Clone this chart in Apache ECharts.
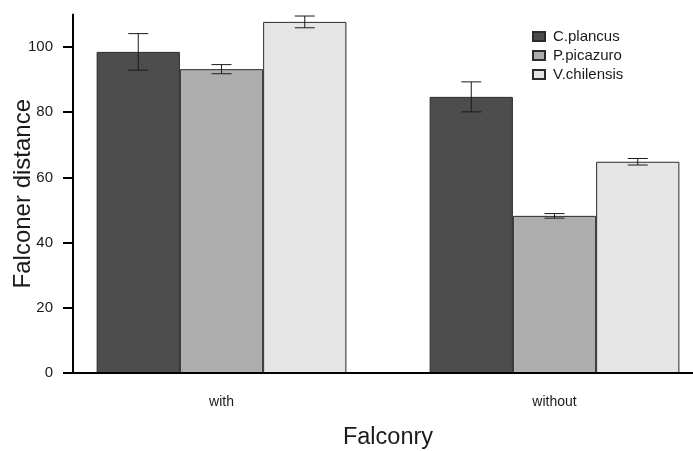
<!DOCTYPE html>
<html>
<head>
<meta charset="utf-8">
<script src="https://cdn.jsdelivr.net/npm/echarts@6/dist/echarts.min.js"></script>
<style>
  html, body { margin: 0; padding: 0; background: #fff; }
  #chart { width: 693px; height: 451px; }
</style>
</head>
<body>
<div id="chart"></div>
<script>
// Falconer distance by species, with and without falconry (mean ± error)
const categories = ['with', 'without'];
const speciesNames = ['C.plancus', 'P.picazuro', 'V.chilensis'];
const cPlancus = [98.5, 84.7];
const cPlancusErr = [5.6, 4.6];
const pPicazuro = [93.2, 48.2];
const pPicazuroErr = [1.4, 0.7];
const vChilensis = [107.7, 64.8];
const vChilensisErr = [1.8, 1.0];
const yTicks = [0, 20, 40, 60, 80, 100];

const means = [cPlancus, pPicazuro, vChilensis];
const errs = [cPlancusErr, pPicazuroErr, vChilensisErr];
const fills = ['#4d4d4d', '#adadad', '#e5e5e5'];
const BAR_FRAC = 0.25;   // bar width as a share of each category band
const FONT = "'Liberation Sans', Arial, sans-serif";
const INK = '#1a1a1a';

const chart = echarts.init(document.getElementById('chart'));

const barSeries = speciesNames.map((name, k) => ({
  type: 'bar',
  name: name,
  xAxisIndex: 0,
  yAxisIndex: 0,
  data: means[k],
  barWidth: (BAR_FRAC * 100) + '%',
  barGap: '0%',
  itemStyle: { color: fills[k], borderColor: '#2b2b2b', borderWidth: 1 },
  z: 2
}));

const errorSeries = speciesNames.map((name, k) => ({
  type: 'custom',
  xAxisIndex: 0,
  yAxisIndex: 0,
  z: 5,
  silent: true,
  data: means[k].map((m, i) => [i, m - errs[k][i], m + errs[k][i]]),
  renderItem(params, api) {
    const band = api.size([1, 0])[0];
    const dx = (k - 1) * band * BAR_FRAC;
    const lo = api.coord([api.value(0), api.value(1)]);
    const hi = api.coord([api.value(0), api.value(2)]);
    const x = lo[0] + dx;
    const cap = 10;
    const st = { stroke: '#1a1a1a', lineWidth: 1 };
    return {
      type: 'group',
      children: [
        { type: 'line', shape: { x1: x, y1: lo[1], x2: x, y2: hi[1] }, style: st },
        { type: 'line', shape: { x1: x - cap, y1: lo[1], x2: x + cap, y2: lo[1] }, style: st },
        { type: 'line', shape: { x1: x - cap, y1: hi[1], x2: x + cap, y2: hi[1] }, style: st }
      ]
    };
  }
}));

chart.setOption({
  animation: false,
  backgroundColor: '#ffffff',
  textStyle: { fontFamily: FONT },
  grid: [
    // band layout for the bars
    { left: 55, right: -28, top: 14.4, bottom: 78, containLabel: false, outerBoundsMode: 'none' },
    // frame holding the visible axis lines
    { left: 73, right: 0, top: 14.4, bottom: 78, containLabel: false, outerBoundsMode: 'none' }
  ],
  legend: {
    data: speciesNames,
    orient: 'vertical',
    left: 527,
    top: 24,
    icon: 'rect',
    itemWidth: 12,
    itemHeight: 9,
    itemGap: 4,
    textStyle: { fontSize: 15, color: INK, fontFamily: FONT, padding: [0, 0, 0, 3] }
  },
  xAxis: [
    {
      type: 'category',
      gridIndex: 0,
      data: categories,
      axisLine: { show: false },
      axisTick: { show: false },
      axisLabel: { fontSize: 14, color: INK, margin: 22, fontFamily: FONT },
      name: 'Falconry',
      nameLocation: 'middle',
      nameGap: 53,
      nameMoveOverlap: false,
      nameTextStyle: { fontSize: 23.5, color: INK, fontFamily: FONT }
    },
    {
      type: 'value',
      gridIndex: 1,
      min: 0,
      max: 1,
      z: 10,
      axisLine: { show: true, lineStyle: { color: '#000', width: 2 } },
      axisTick: { show: false },
      axisLabel: { show: false },
      splitLine: { show: false }
    }
  ],
  yAxis: [
    {
      type: 'value',
      gridIndex: 0,
      min: 0,
      max: 110,
      show: false,
      splitLine: { show: false }
    },
    {
      type: 'value',
      gridIndex: 1,
      min: 0,
      max: 110,
      z: 10,
      axisLine: { show: true, lineStyle: { color: '#000', width: 2 } },
      axisTick: { show: true, length: 10, customValues: yTicks, lineStyle: { color: '#000', width: 2 } },
      axisLabel: { fontSize: 15, color: INK, margin: 20, customValues: yTicks, fontFamily: FONT },
      splitLine: { show: false },
      name: 'Falconer distance',
      nameLocation: 'middle',
      nameGap: 38,
      nameMoveOverlap: false,
      nameTextStyle: { fontSize: 24, color: INK, fontFamily: FONT }
    }
  ],
  series: [...barSeries, ...errorSeries]
});
</script>
</body>
</html>
